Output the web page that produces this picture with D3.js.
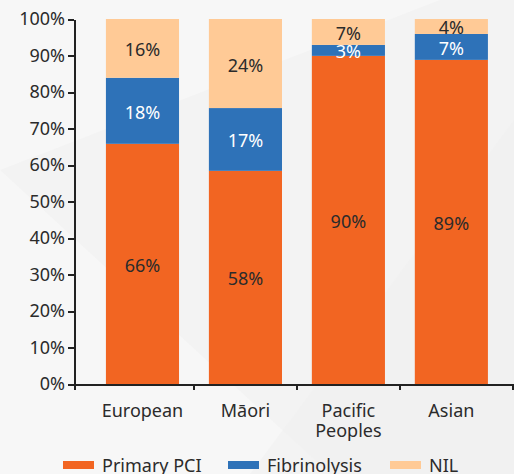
<!DOCTYPE html>
<meta charset="utf-8">
<style>
    body {
        margin: 0;
        background-color: #F7F7F7;
    }
    svg text {
        font-family: "Noto Sans", "Open Sans", sans-serif;
        font-size: 18px;
        fill: #2b2b2b;
    }
    .axis path,
    .axis line {
        fill: none;
        stroke: #222;
        stroke-width: 2px;
        shape-rendering: crispEdges;
    }
</style>
<svg width="514" height="474"></svg>
<script src="https://d3js.org/d3.v7.min.js"></script>
<script>
    // data
    var categories = ["European", "Māori", "Pacific Peoples", "Asian"];
    var seriesNames = ["Primary PCI", "Fibrinolysis", "NIL"];
    var primaryPCI = [65.8, 58.4, 89.9, 88.8];
    var fibrinolysis = [18.1, 17.2, 3.0, 7.1];
    var nil = [16.1, 24.4, 7.1, 4.1];
    var yTicks = [0, 10, 20, 30, 40, 50, 60, 70, 80, 90, 100];

    var colors = ["#F26522", "#2E72B8", "#FFCA96"];
    var labelColors = ["#2b2b2b", "#ffffff", "#2b2b2b"];

    var svg = d3.select("svg");

    // faint background shapes
    svg.append("path")
        .attr("d", "M0,170 L330,474 L514,474 L514,0 L440,0 Z")
        .attr("fill", "#f3f3f3");
    svg.append("path")
        .attr("d", "M250,474 L514,120 L514,474 Z")
        .attr("fill", "#f0f0f0")
        .attr("opacity", 0.6);

    var mLeft = 74, mRight = 512, mTop = 19, mBottom = 384;

    var x = d3.scaleBand()
        .domain(categories)
        .range([mLeft, mRight])
        .paddingInner(0.29)
        .paddingOuter(0.272)
        .align(0.57);

    var y = d3.scaleLinear().domain([0, 100]).range([mBottom, mTop]);

    var table = categories.map(function(c, i) {
        return {cat: c, "Primary PCI": primaryPCI[i], "Fibrinolysis": fibrinolysis[i], "NIL": nil[i]};
    });
    var stacked = d3.stack().keys(seriesNames)(table);

    var layer = svg.selectAll(".layer")
        .data(stacked)
        .enter().append("g")
        .attr("class", "layer")
        .attr("fill", function(d, i) { return colors[i]; });

    layer.selectAll("rect")
        .data(function(d) { return d; })
        .enter().append("rect")
        .attr("x", function(d) { return x(d.data.cat); })
        .attr("width", x.bandwidth())
        .attr("y", function(d) { return y(d[1]); })
        .attr("height", function(d) { return y(d[0]) - y(d[1]); });

    layer.each(function(s, si) {
        d3.select(this).selectAll("text")
            .data(s)
            .enter().append("text")
            .attr("x", function(d) { return x(d.data.cat) + x.bandwidth() / 2; })
            .attr("y", function(d) { return (y(d[0]) + y(d[1])) / 2 + 1; })
            .attr("text-anchor", "middle")
            .attr("dominant-baseline", "central")
            .style("fill", labelColors[si])
            .text(function(d) { return Math.round(d[1] - d[0]) + "%"; });
    });

    // y axis
    svg.append("g")
        .attr("class", "axis")
        .attr("transform", "translate(" + mLeft + ",0)")
        .call(d3.axisLeft(y).tickValues(yTicks).tickSize(6).tickSizeOuter(0)
            .tickFormat(function(d) { return d + "%"; }))
        .selectAll("text")
        .attr("x", -9)
        .style("fill", "#2b2b2b");

    // x axis
    var xAxis = svg.append("g")
        .attr("class", "axis")
        .attr("transform", "translate(0," + mBottom + ")");
    xAxis.call(d3.axisBottom(x).tickSize(0).tickSizeOuter(6));
    xAxis.selectAll(".tick text").remove();

    var gap = x.step() * x.paddingInner();
    xAxis.selectAll(".sep")
        .data(categories.slice(0, -1))
        .enter().append("line")
        .attr("class", "sep")
        .attr("x1", function(d) { return Math.round(x(d) + x.bandwidth() + gap / 2); })
        .attr("x2", function(d) { return Math.round(x(d) + x.bandwidth() + gap / 2); })
        .attr("y1", 0)
        .attr("y2", 6);

    var labels = svg.append("g").selectAll("text")
        .data(categories)
        .enter().append("text")
        .attr("text-anchor", "middle")
        .attr("x", function(d) { return x(d) + x.bandwidth() / 2; })
        .attr("y", mBottom + 33);

    labels.each(function(d) {
        var t = d3.select(this), cx = x(d) + x.bandwidth() / 2;
        var words = d.split(" ");
        t.text(d);
        if (this.getComputedTextLength() > x.step() && words.length > 1) {
            t.text(null);
            words.forEach(function(w, i) {
                t.append("tspan").attr("x", cx).attr("dy", i ? 20 : 0).text(w);
            });
        }
    });

    // legend
    var legendX = [63, 228, 390];
    var legend = svg.append("g").selectAll("g")
        .data(seriesNames)
        .enter().append("g")
        .attr("transform", function(d, i) { return "translate(" + legendX[i] + ",461)"; });
    legend.append("rect")
        .attr("width", 31)
        .attr("height", 8)
        .attr("fill", function(d, i) { return colors[i]; });
    legend.append("text")
        .attr("x", 39)
        .attr("y", 4)
        .attr("dominant-baseline", "central")
        .text(function(d) { return d; });
</script>
